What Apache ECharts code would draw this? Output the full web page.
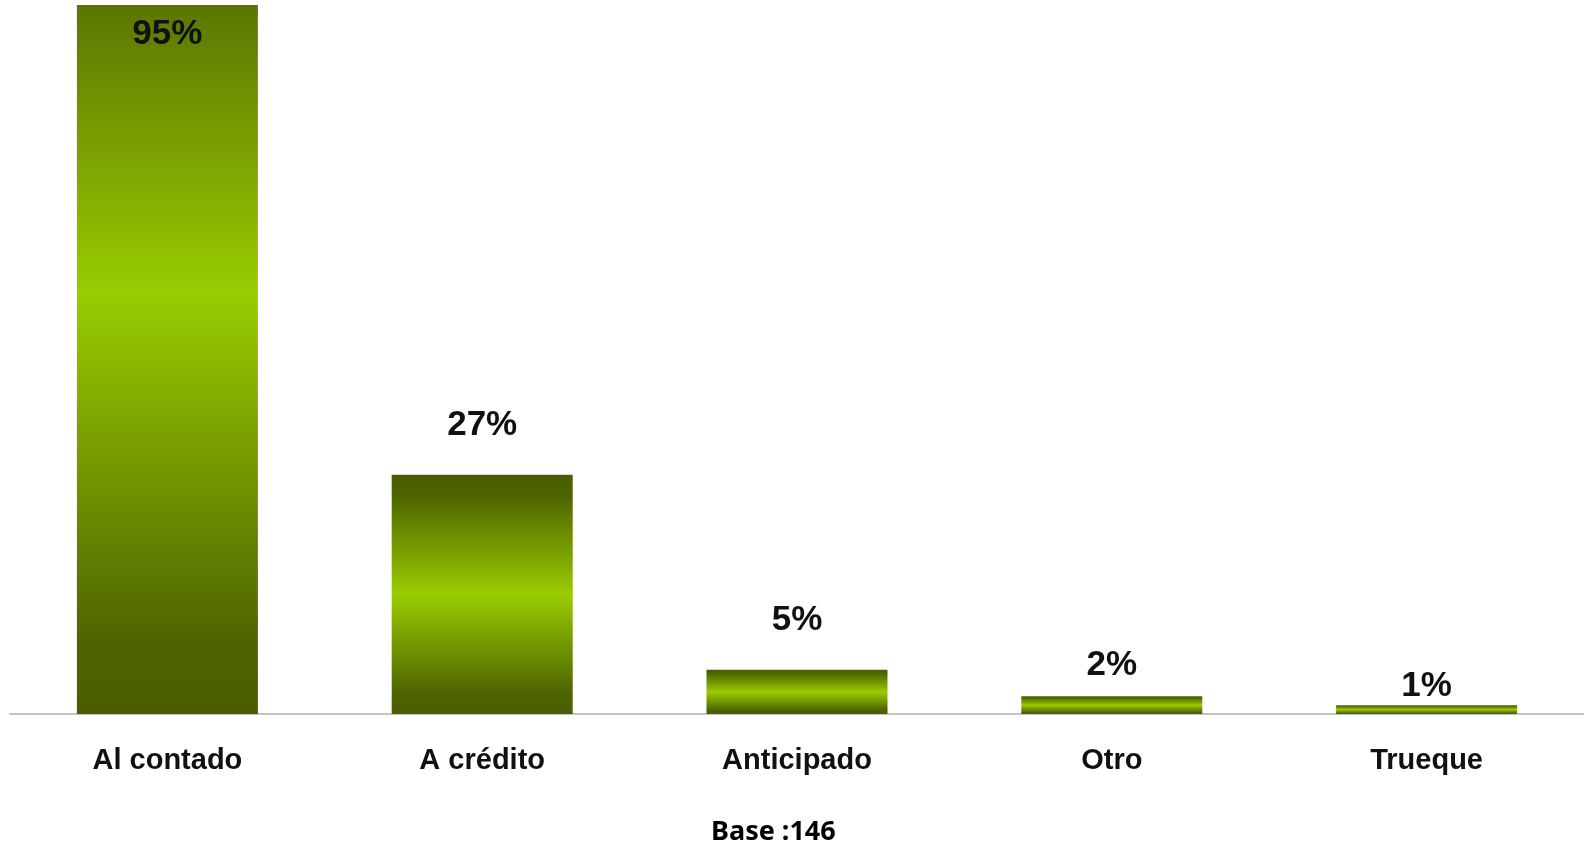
<!DOCTYPE html>
<html>
<head>
<meta charset="utf-8">
<script src="https://cdn.jsdelivr.net/npm/echarts@6/dist/echarts.min.js"></script>
<style>
  html, body { margin: 0; padding: 0; background: #fff; }
  #chart { width: 1584px; height: 846px; }
</style>
</head>
<body>
<div id="chart"></div>
<script>
// datos
var categorias = ['Al contado', 'A crédito', 'Anticipado', 'Otro', 'Trueque'];
var valores = [95, 27, 5, 2, 1];
var ejeMax = 80;

var myChart = echarts.init(document.getElementById('chart'));

// degradado oscuro - claro - oscuro
var paradas = [
    [0, [74, 94, 0]],
    [0.08, [77, 99, 0]],
    [0.5, [153, 204, 0]],
    [0.92, [77, 99, 0]],
    [1, [74, 94, 0]]
];

function rgb(c) { return 'rgb(' + c.map(Math.round).join(',') + ')'; }

function colorEn(t) {
    for (var i = 1; i < paradas.length; i++) {
        if (t <= paradas[i][0]) {
            var a = paradas[i - 1], b = paradas[i];
            var f = (t - a[0]) / (b[0] - a[0]);
            return a[1].map(function (v, k) { return v + (b[1][k] - v) * f; });
        }
    }
    return paradas[paradas.length - 1][1];
}

// si la barra se corta arriba, el degradado sigue siendo el de la barra completa
function degradado(v) {
    var f0 = v > ejeMax ? 1 - ejeMax / v : 0;
    var stops = [{ offset: 0, color: rgb(colorEn(f0)) }];
    paradas.forEach(function (p) {
        if (p[0] > f0) stops.push({ offset: (p[0] - f0) / (1 - f0), color: rgb(p[1]) });
    });
    return new echarts.graphic.LinearGradient(0, 0, 0, 1, stops);
}

// separación de la etiqueta (las barras pequeñas la llevan más pegada)
var separacion = [12, 32, 32, 13, 1];

var datos = valores.map(function (v, i) {
    var d = { value: v, itemStyle: { color: degradado(v) }, label: { distance: separacion[i] } };
    if (v > ejeMax) d.label.position = 'insideTop';
    return d;
});

var option = {
    animation: false,
    grid: { left: 10, right: 0, top: 5, bottom: 132 },
    xAxis: {
        type: 'category',
        data: categorias,
        axisTick: { show: false },
        axisLine: { lineStyle: { color: '#c4c4c4', width: 2 } },
        axisLabel: {
            margin: 32,
            color: '#111',
            fontFamily: 'Liberation Sans, Arial, sans-serif',
            fontWeight: 'bold',
            fontSize: 29
        }
    },
    yAxis: {
        type: 'value',
        min: 0,
        max: ejeMax,
        show: false,
        splitLine: { show: false }
    },
    series: [{
        type: 'bar',
        barWidth: '57.5%',
        data: datos,
        label: {
            show: true,
            position: 'top',
            formatter: '{c}%',
            color: '#111',
            fontFamily: 'Liberation Sans, Arial, sans-serif',
            fontWeight: 'bold',
            fontSize: 35
        }
    }],
    graphic: [{
        type: 'text',
        left: 711,
        top: 819,
        style: {
            text: 'Base :146',
            fill: '#000',
            font: 'bold 27px "Noto Sans", sans-serif'
        }
    }]
};

myChart.setOption(option);
</script>
</body>
</html>
